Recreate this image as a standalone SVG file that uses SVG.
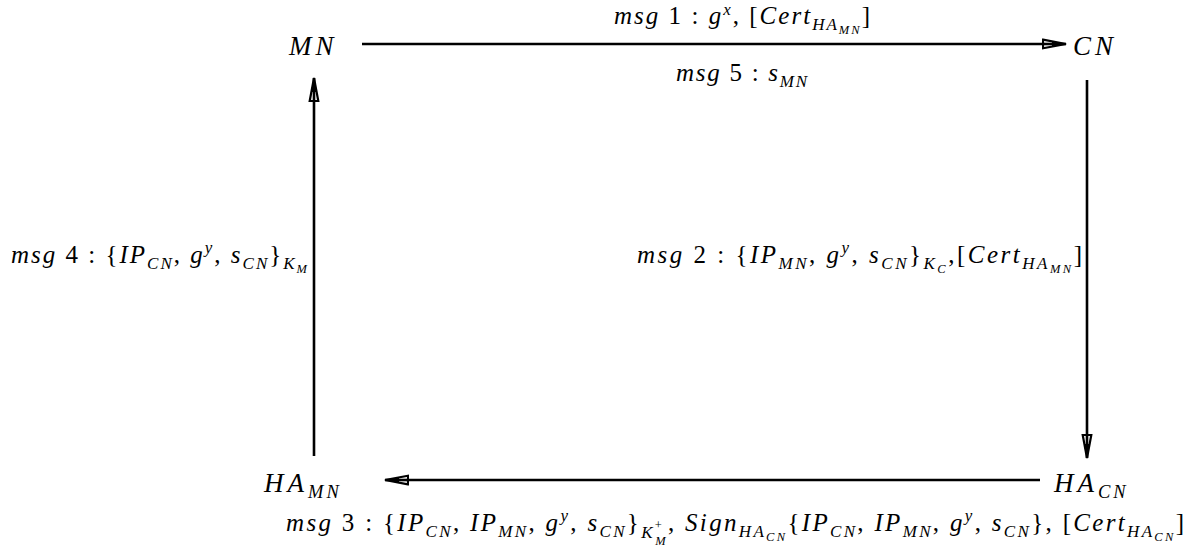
<svg xmlns="http://www.w3.org/2000/svg" width="1189" height="556" viewBox="0 0 1189 556">
<style>
text{font-family:"Liberation Serif","DejaVu Serif",serif;font-size:25px;fill:#000}
.i{font-style:italic}
.sub{font-size:17px}
.ss{font-size:12.5px}
.node{font-size:27px;font-style:italic;letter-spacing:4px}
.node .sub{font-size:18.5px;letter-spacing:3px}
.conn{stroke:#000;stroke-width:2.6;fill:none;marker-end:url(#ah)}
</style>
<defs>
<marker id="ah" markerUnits="userSpaceOnUse" markerWidth="30" markerHeight="14" viewBox="0 -7 30 14" refX="24" refY="0" orient="auto">
<path d="M1,-4.3 L24,0 L1,4.3 Z" fill="#fff" stroke="#000" stroke-width="2.2"/>
<path d="M0,0 L14,0" stroke="#000" stroke-width="2.6"/>
<path d="M10,-2.6 L24,0 L10,2.6 Z" fill="#000"/>
</marker>
</defs>
<rect width="1189" height="556" fill="#fff"/>
<g id="connectors">
<line class="conn" x1="362" y1="44" x2="1066" y2="44"/>
<line class="conn" x1="1087" y1="80" x2="1087" y2="458"/>
<line class="conn" x1="1040" y1="480" x2="385" y2="480"/>
<line class="conn" x1="314" y1="456" x2="314" y2="78"/>
</g>
<g id="node-MN"><text class="node" x="289" y="55">MN</text></g>
<g id="node-CN"><text class="node" x="1073" y="55">CN</text></g>
<g id="node-HAMN"><text class="node" x="264" y="492">HA<tspan class="sub" dy="6">MN</tspan></text></g>
<g id="node-HACN"><text class="node" x="1054" y="492">HA<tspan class="sub" dy="6">CN</tspan></text></g>
<g id="labels">
<text x="614" y="24" textLength="256"><tspan class="i">msg</tspan> 1 : <tspan class="i">g</tspan><tspan class="i sub" dy="-9">x</tspan><tspan dy="9">, [</tspan><tspan class="i">Cert</tspan><tspan class="i sub" dy="6">HA</tspan><tspan class="i ss" dy="4">MN</tspan><tspan dy="-10">]</tspan></text>
<text x="676" y="81" textLength="131"><tspan class="i">msg</tspan> 5 : <tspan class="i">s</tspan><tspan class="i sub" dy="6">MN</tspan></text>
<text x="11" y="263" textLength="296"><tspan class="i">msg</tspan> 4 : {<tspan class="i">IP</tspan><tspan class="i sub" dy="6">CN</tspan><tspan dy="-6">, </tspan><tspan class="i">g</tspan><tspan class="i sub" dy="-10">y</tspan><tspan dy="10">, </tspan><tspan class="i">s</tspan><tspan class="i sub" dy="6">CN</tspan><tspan dy="-6">}</tspan><tspan class="i sub" dy="6">K</tspan><tspan class="i ss" dy="4">M</tspan></text>
<text x="637" y="263" textLength="445"><tspan class="i">msg</tspan> 2 : {<tspan class="i">IP</tspan><tspan class="i sub" dy="6">MN</tspan><tspan dy="-6">, </tspan><tspan class="i">g</tspan><tspan class="i sub" dy="-10">y</tspan><tspan dy="10">, </tspan><tspan class="i">s</tspan><tspan class="i sub" dy="6">CN</tspan><tspan dy="-6">}</tspan><tspan class="i sub" dy="6">K</tspan><tspan class="i ss" dy="4">C</tspan><tspan dy="-10">,[</tspan><tspan class="i">Cert</tspan><tspan class="i sub" dy="6">HA</tspan><tspan class="i ss" dy="4">MN</tspan><tspan dy="-10">]</tspan></text>
<text x="286" y="531" textLength="898"><tspan class="i">msg</tspan> 3 : {<tspan class="i">IP</tspan><tspan class="i sub" dy="6">CN</tspan><tspan dy="-6">, </tspan><tspan class="i">IP</tspan><tspan class="i sub" dy="6">MN</tspan><tspan dy="-6">, </tspan><tspan class="i">g</tspan><tspan class="i sub" dy="-10">y</tspan><tspan dy="10">, </tspan><tspan class="i">s</tspan><tspan class="i sub" dy="6">CN</tspan><tspan dy="-6">}</tspan><tspan class="i sub" dy="7">K</tspan><tspan class="ss" dy="-9">+</tspan><tspan class="i ss" dx="-9" dy="16">M</tspan><tspan dy="-14">, </tspan><tspan class="i">Sign</tspan><tspan class="i sub" dy="6">HA</tspan><tspan class="i ss" dy="4">CN</tspan><tspan dy="-10">{</tspan><tspan class="i">IP</tspan><tspan class="i sub" dy="6">CN</tspan><tspan dy="-6">, </tspan><tspan class="i">IP</tspan><tspan class="i sub" dy="6">MN</tspan><tspan dy="-6">, </tspan><tspan class="i">g</tspan><tspan class="i sub" dy="-10">y</tspan><tspan dy="10">, </tspan><tspan class="i">s</tspan><tspan class="i sub" dy="6">CN</tspan><tspan dy="-6">}, [</tspan><tspan class="i">Cert</tspan><tspan class="i sub" dy="6">HA</tspan><tspan class="i ss" dy="4">CN</tspan><tspan dy="-10">]</tspan></text>
</g>
</svg>
